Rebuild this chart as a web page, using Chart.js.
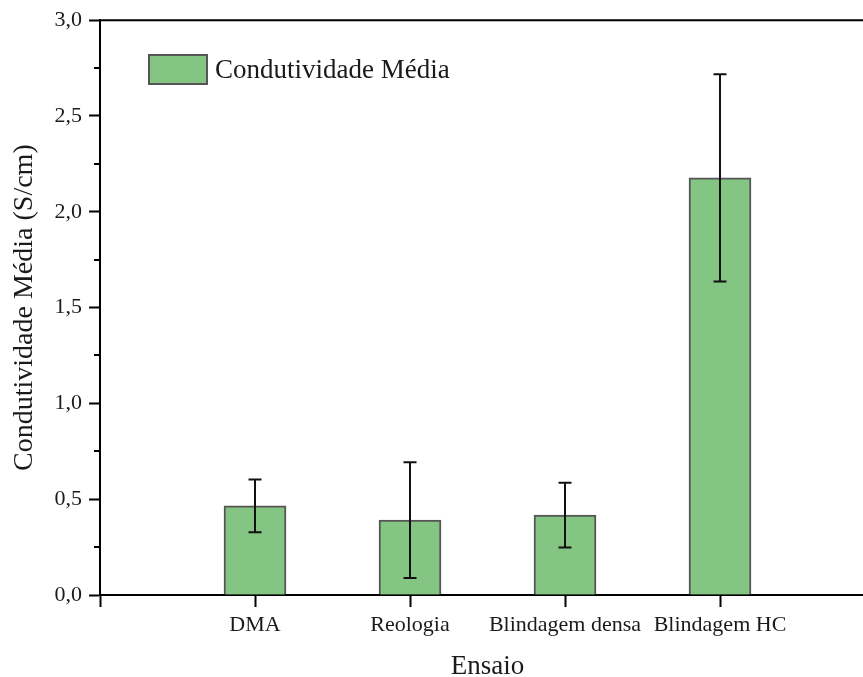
<!DOCTYPE html>
<html>
<head>
<meta charset="utf-8">
<script src="https://cdn.jsdelivr.net/npm/chart.js@4/dist/chart.umd.min.js"></script>
<style>
html,body{margin:0;padding:0;background:#fff;overflow:hidden;}
#wrap{width:863px;height:677px;overflow:hidden;position:relative;}
canvas{display:block;}
</style>
</head>
<body>
<div id="wrap"><canvas id="c" width="900" height="677"></canvas></div>
<script>
const categories = ['DMA', 'Reologia', 'Blindagem densa', 'Blindagem HC'];
const means = [0.465, 0.391, 0.417, 2.177];
const errors = [0.138, 0.302, 0.169, 0.541];
const yTicks = [0, 0.5, 1.0, 1.5, 2.0, 2.5, 3.0];
const seriesName = 'Condutividade Média';
const xTitle = 'Ensaio';
const yTitle = 'Condutividade Média (S/cm)';

const FILL = '#84c584';
const EDGE = '#555555';
const FONT = "'Liberation Serif', 'Times New Roman', serif";

Chart.defaults.font.family = FONT;
Chart.defaults.color = '#1a1a1a';

const points = categories.map((c, i) => ({x: i + 1, y: means[i]}));

const extras = {
  id: 'extras',
  afterDatasetsDraw(chart) {
    const {ctx, chartArea, scales} = chart;
    const xs = scales.x, ys = scales.y;
    ctx.save();
    // error bars
    ctx.strokeStyle = '#111';
    ctx.lineWidth = 2;
    means.forEach((m, i) => {
      const px = xs.getPixelForValue(i + 1);
      const top = ys.getPixelForValue(m + errors[i]);
      const bot = ys.getPixelForValue(m - errors[i]);
      ctx.beginPath();
      ctx.moveTo(px, top); ctx.lineTo(px, bot);
      ctx.moveTo(px - 6.5, top); ctx.lineTo(px + 6.5, top);
      ctx.moveTo(px - 6.5, bot); ctx.lineTo(px + 6.5, bot);
      ctx.stroke();
    });
    // minor y ticks
    ctx.strokeStyle = '#000';
    ctx.lineWidth = 2;
    for (let k = 0; k < yTicks.length - 1; k++) {
      const v = (yTicks[k] + yTicks[k + 1]) / 2;
      const py = Math.round(ys.getPixelForValue(v));
      ctx.beginPath();
      ctx.moveTo(chartArea.left - 6, py); ctx.lineTo(chartArea.left, py);
      ctx.stroke();
    }
    // top border
    ctx.beginPath();
    ctx.moveTo(chartArea.left - 1, chartArea.top);
    ctx.lineTo(chartArea.right + 1, chartArea.top);
    ctx.stroke();
    // legend
    ctx.fillStyle = FILL;
    ctx.fillRect(149, 55, 58, 29);
    ctx.strokeStyle = EDGE;
    ctx.lineWidth = 2;
    ctx.strokeRect(149, 55, 58, 29);
    ctx.fillStyle = '#1a1a1a';
    ctx.font = "27px " + FONT;
    ctx.textBaseline = 'middle';
    ctx.textAlign = 'left';
    ctx.fillText(seriesName, 215, 71);
    ctx.restore();
  }
};

new Chart(document.getElementById('c'), {
  type: 'bar',
  data: {
    datasets: [{
      label: seriesName,
      data: points,
      backgroundColor: FILL,
      borderColor: EDGE,
      borderWidth: 2,
      barThickness: 62,
      borderSkipped: 'start'
    }]
  },
  options: {
    responsive: false,
    animation: false,
    events: [],
    layout: {padding: {top: 20, right: 25, left: 0, bottom: 0}},
    plugins: {legend: {display: false}, tooltip: {enabled: false}},
    scales: {
      x: {
        type: 'linear',
        min: 0, max: 5,
        offset: false,
        border: {display: true, color: '#000', width: 2},
        grid: {display: true, offset: false, drawOnChartArea: false, drawTicks: true, tickLength: 12, tickWidth: 2, tickColor: '#000'},
        ticks: {
          stepSize: 1, autoSkip: false, maxRotation: 0, padding: 5,
          font: {size: 22},
          callback: (v) => categories[v - 1] || ''
        },
        title: {display: true, text: xTitle, font: {size: 27, lineHeight: 1}, padding: {top: 0, bottom: -3}},
        afterFit: (s) => { s.height = 82; }
      },
      y: {
        min: 0, max: 3,
        border: {display: true, color: '#000', width: 2},
        grid: {display: true, drawOnChartArea: false, drawTicks: true, tickLength: 11, tickWidth: 2, tickColor: '#000'},
        afterBuildTicks: (s) => { s.ticks = yTicks.map(v => ({value: v})); },
        ticks: {
          padding: 7,
          font: {size: 22},
          callback: (v) => Number(v).toFixed(1).replace('.', ',')
        },
        title: {display: true, text: yTitle, font: {size: 28, lineHeight: 1}, padding: {top: 11, bottom: 0}},
        afterFit: (s) => { s.width = 100; }
      }
    }
  },
  plugins: [extras]
});
</script>
</body>
</html>
